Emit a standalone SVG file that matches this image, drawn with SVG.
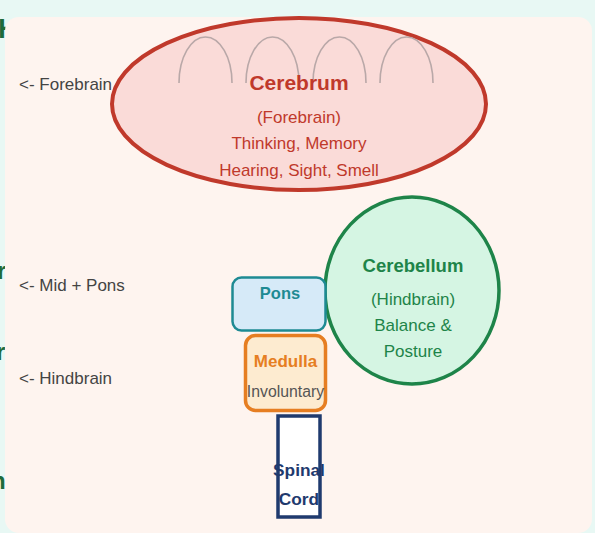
<svg xmlns="http://www.w3.org/2000/svg" width="595" height="533" viewBox="0 0 595 533">
  <style>
    text { font-family: "Liberation Sans", Arial, sans-serif; }
    .edge { fill: #1e6b3a; font-weight: bold; }
    .side { fill: #444444; font-size: 17px; }
    .arch { fill: none; stroke: #b9a8a8; stroke-width: 1.6; }
    .t17 { font-size: 17px; text-anchor: middle; }
    .b { font-weight: bold; }
  </style>
  <rect x="0" y="0" width="595" height="533" fill="#e8f8f4"/>
  <g id="hidden-edge-text">
    <text class="edge" x="-2" y="38" font-size="28">H</text>
    <text class="edge" x="-3" y="279" font-size="24">r</text>
    <text class="edge" x="-4" y="360" font-size="24">r</text>
    <text class="edge" x="-9" y="489" font-size="24">n</text>
  </g>
  <rect id="panel" x="5" y="17" width="587" height="516" rx="14" fill="#fef4ef"/>
  <g id="side-labels">
    <text class="side" x="19" y="90">&lt;- Forebrain</text>
    <text class="side" x="19" y="291">&lt;- Mid + Pons</text>
    <text class="side" x="19" y="384">&lt;- Hindbrain</text>
  </g>
  <g id="connectors"></g>
  <g id="cerebrum">
    <ellipse cx="299" cy="104" rx="187" ry="86" fill="#fadbd8" stroke="#c0392b" stroke-width="4"/>
    <path class="arch" d="M179,83 A26.5,46 0 0 1 232,83"/>
    <path class="arch" d="M246,83 A26.5,46 0 0 1 299,83"/>
    <path class="arch" d="M313,83 A26.5,46 0 0 1 366,83"/>
    <path class="arch" d="M380,83 A26.5,46 0 0 1 433,83"/>
    <text class="b" x="299" y="90" font-size="21" text-anchor="middle" fill="#c0392b">Cerebrum</text>
    <text class="t17" x="299" y="123" fill="#c0392b">(Forebrain)</text>
    <text class="t17" x="299" y="149" fill="#c0392b">Thinking, Memory</text>
    <text class="t17" x="299" y="176" fill="#c0392b">Hearing, Sight, Smell</text>
  </g>
  <g id="cerebellum">
    <ellipse cx="412" cy="290.5" rx="87" ry="93.5" fill="#d5f5e3" stroke="#1e8449" stroke-width="3.5"/>
    <text class="b" x="413" y="272" font-size="18.5" text-anchor="middle" fill="#1e8449">Cerebellum</text>
    <text class="t17" x="413" y="305" fill="#1e8449">(Hindbrain)</text>
    <text class="t17" x="413" y="331" fill="#1e8449">Balance &amp;</text>
    <text class="t17" x="413" y="357" fill="#1e8449">Posture</text>
  </g>
  <g id="pons">
    <rect x="232.5" y="277.5" width="93" height="53" rx="9" fill="#d6eaf8" stroke="#1e8a93" stroke-width="2.5"/>
    <text class="b" x="280" y="299" font-size="16.5" text-anchor="middle" fill="#1e8a93">Pons</text>
  </g>
  <g id="medulla">
    <rect x="245.5" y="335.5" width="80" height="75" rx="10" fill="#fdebd0" stroke="#e67e22" stroke-width="3.5"/>
    <text class="b" x="285.5" y="367" font-size="17" text-anchor="middle" fill="#e67e22">Medulla</text>
    <text x="285.5" y="397" font-size="15.8" text-anchor="middle" fill="#555555">Involuntary</text>
  </g>
  <g id="spinal-cord">
    <rect x="278" y="416" width="42" height="101" fill="#ffffff" stroke="#1f3a6e" stroke-width="3.5"/>
    <text class="b" x="299" y="476" font-size="17.3" text-anchor="middle" fill="#1f3a6e">Spinal</text>
    <text class="b" x="299" y="505" font-size="17.3" text-anchor="middle" fill="#1f3a6e">Cord</text>
  </g>
</svg>
